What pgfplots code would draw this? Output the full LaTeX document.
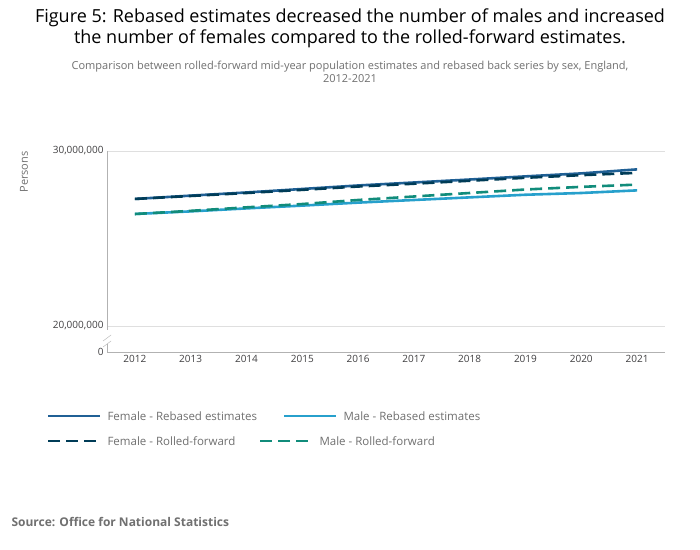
\documentclass[border=0pt]{standalone}
\usepackage{pgfplots}
\pgfplotsset{compat=1.18}
\usepackage{fontspec}
\setmainfont{Open Sans}
\definecolor{fr}{HTML}{206095}
\definecolor{mr}{HTML}{27A0CC}
\definecolor{ff}{HTML}{003C57}
\definecolor{mf}{HTML}{118C7B}
\definecolor{txt}{HTML}{414042}
\definecolor{gr}{HTML}{707070}
\begin{document}
\begin{tikzpicture}[x=1pt,y=1pt]
\path[fill=white] (0,0) rectangle (700,549);
\node[align=center,font=\fontsize{18}{21}\selectfont,text=black] at (350,521) {Figure 5: Rebased estimates decreased the number of males and increased\\the number of females compared to the rolled-forward estimates.};
\node[align=center,font=\fontsize{11}{13}\selectfont,text=gr] at (350,477) {Comparison between rolled-forward mid-year population estimates and rebased back series by sex, England,\\2012-2021};
\begin{axis}[at={(107pt,197pt)},anchor=south west,scale only axis,width=558pt,height=201pt,
 xmin=2011.5,xmax=2021.5,ymin=18514000,ymax=30000000,
 axis line style={draw=none},scaled y ticks=false,
 xtick={2012,...,2021},xticklabel style={/pgf/number format/1000 sep={}},
 extra x ticks={2012.5,2013.5,...,2020.5},extra x tick labels={},
 extra x tick style={major tick length=6pt,tick style={draw=gray!60},tick align=outside},
 xtick style={draw=none},
 ytick={18514000,20000000,30000000},yticklabels={0,{20,000,000},{30,000,000}},
 ymajorgrids,grid style={draw=gray!25},
 ytick style={draw=none},
 tick label style={font=\fontsize{10}{12}\selectfont,text=txt},
 /pgf/number format/assume math mode=true,
 clip=false]
\addplot[mr,line width=2.6pt] coordinates {(2012,26400000)(2013,26550000)(2014,26720000)(2015,26880000)(2016,27050000)(2017,27200000)(2018,27350000)(2019,27500000)(2020,27600000)(2021,27750000)};
\addplot[mf,line width=2.6pt,dash pattern=on 12pt off 6pt] coordinates {(2012,26400000)(2013,26580000)(2014,26780000)(2015,26970000)(2016,27200000)(2017,27400000)(2018,27600000)(2019,27800000)(2020,27950000)(2021,28080000)};
\addplot[fr,line width=2.6pt] coordinates {(2012,27260000)(2013,27450000)(2014,27630000)(2015,27830000)(2016,28030000)(2017,28200000)(2018,28370000)(2019,28550000)(2020,28720000)(2021,28950000)};
\addplot[ff,line width=2.6pt,dash pattern=on 12pt off 6pt] coordinates {(2012,27260000)(2013,27430000)(2014,27600000)(2015,27780000)(2016,27970000)(2017,28130000)(2018,28300000)(2019,28470000)(2020,28620000)(2021,28750000)};
\end{axis}
\draw[gray!60] (107,197)--(665,197);
\draw[gray!60] (107,398)--(107,219);
\draw[gray!60] (107,197)--(107,205);
\draw[gray!60] (103,208)--(111,214);
\draw[gray!60] (103,202)--(111,208);
\node[rotate=90,font=\fontsize{11}{13}\selectfont,text=gr] at (24,377) {Persons};
\begin{scope}[font=\fontsize{11.5}{13}\selectfont,text=gr]
\draw[fr,line width=2.6pt] (48,133)--(100,133); \node[anchor=west] at (104,133) {Female - Rebased estimates};
\draw[mr,line width=2.6pt] (284,133)--(336,133); \node[anchor=west] at (340,133) {Male - Rebased estimates};
\draw[ff,line width=2.6pt,dash pattern=on 12pt off 6pt] (48,108)--(100,108); \node[anchor=west] at (104,108) {Female - Rolled-forward};
\draw[mf,line width=2.6pt,dash pattern=on 12pt off 6pt] (260,108)--(312,108); \node[anchor=west] at (316,108) {Male - Rolled-forward};
\end{scope}
\node[anchor=west,font=\bfseries\fontsize{12}{14}\selectfont,text=gr] at (8,27) {Source: Office for National Statistics};
\end{tikzpicture}
\end{document}
